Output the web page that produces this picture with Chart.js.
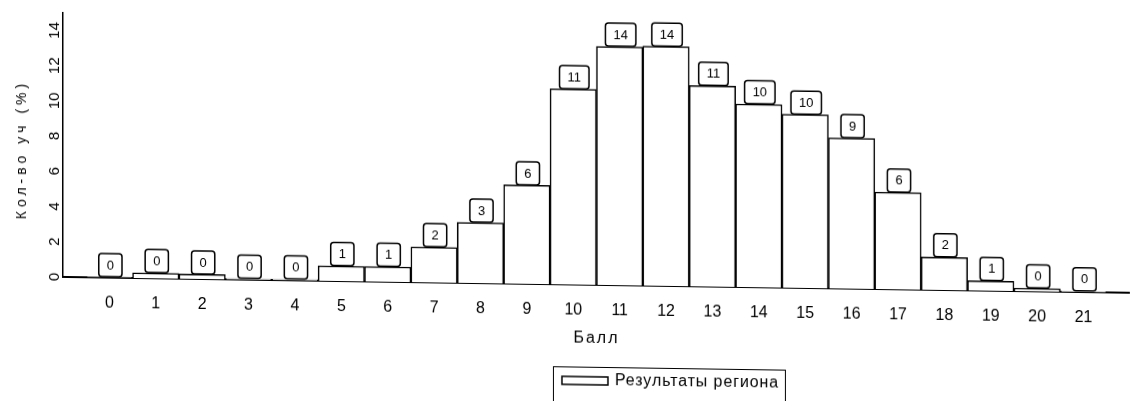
<!DOCTYPE html>
<html><head><meta charset="utf-8">
<script src="https://cdn.jsdelivr.net/npm/chart.js@4/dist/chart.umd.min.js"></script>
<style>
html,body{margin:0;padding:0;background:#fff;overflow:hidden;}
#wrap{width:1130px;height:401px;}
canvas{display:block;transform:skewY(0.85deg);transform-origin:0 0;}
</style></head><body>
<div id="wrap"><canvas id="c" width="1130" height="401"></canvas></div>
<script>
// ---- data ----
const scores = [0,1,2,3,4,5,6,7,8,9,10,11,12,13,14,15,16,17,18,19,20,21];
const shares = [0.03,0.3,0.26,0.05,0.05,0.85,0.85,2.0,3.44,5.6,11.1,13.55,13.6,11.4,10.4,9.85,8.55,5.5,1.86,0.55,0.17,0.04];
const shareLabels = ['0','0','0','0','0','1','1','2','3','6','11','14','14','11','10','10','9','6','2','1','0','0'];
const yTickValues = [0,2,4,6,8,10,12,14];
const seriesName = 'Результаты региона';
const xTitle = 'Балл';
const yTitle = 'Кол-во уч (%)';

const NARROW = '"Liberation Sans Narrow", "Liberation Sans", Arial, sans-serif';
const SANS = '"Liberation Sans", Arial, sans-serif';

const boxLabels = {
  id: 'boxLabels',
  afterDatasetsDraw(chart) {
    const ctx = chart.ctx;
    const meta = chart.getDatasetMeta(0);
    ctx.save();
    ctx.font = '13px ' + NARROW;
    ctx.textAlign = 'center';
    ctx.textBaseline = 'middle';
    meta.data.forEach((bar, i) => {
      const t = shareLabels[i];
      const w = ctx.measureText(t).width + 16;
      const h = 23;
      const cx = bar.x + 1;
      const top = bar.y - h - 0.5;
      ctx.beginPath();
      ctx.roundRect(cx - w / 2, top, w, h, 3);
      ctx.fillStyle = '#fff';
      ctx.fill();
      ctx.lineWidth = 1.5;
      ctx.strokeStyle = '#000';
      ctx.stroke();
      ctx.fillStyle = '#000';
      ctx.fillText(t, cx, top + h / 2 + 0.5);
    });
    ctx.restore();
  }
};

const extras = {
  id: 'extras',
  afterDraw(chart) {
    const ctx = chart.ctx;
    const xs = chart.scales.x;
    const ys = chart.scales.y;
    const spacing = (v) => { if ('letterSpacing' in ctx) ctx.letterSpacing = v; };
    ctx.save();
    // y title
    ctx.save();
    ctx.translate(22, ys.getPixelForValue(7.2));
    ctx.rotate(-Math.PI / 2);
    ctx.font = '14px ' + SANS;
    spacing('4px');
    ctx.fillStyle = '#000';
    ctx.textAlign = 'center';
    ctx.textBaseline = 'middle';
    ctx.fillText(yTitle, 0, 0);
    ctx.restore();
    // x title
    ctx.save();
    ctx.font = '16px ' + SANS;
    spacing('2px');
    ctx.fillStyle = '#000';
    ctx.textAlign = 'center';
    ctx.textBaseline = 'middle';
    ctx.fillText(xTitle, xs.getPixelForValue(10.5), 330);
    ctx.restore();
    // legend
    ctx.lineWidth = 1;
    ctx.strokeStyle = '#000';
    ctx.strokeRect(553.5, 358.5, 232, 40);
    ctx.fillStyle = '#fff';
    ctx.lineWidth = 1.5;
    ctx.fillRect(562, 368, 46, 8);
    ctx.strokeRect(562, 368, 46, 8);
    ctx.fillStyle = '#000';
    ctx.textAlign = 'left';
    ctx.textBaseline = 'middle';
    ctx.font = '16px ' + SANS;
    spacing('0.9px');
    ctx.fillText(chart.data.datasets[0].label, 615, 372);
    ctx.restore();
  }
};

new Chart(document.getElementById('c'), {
  type: 'bar',
  data: {
    labels: scores,
    datasets: [{
      label: seriesName,
      data: shares,
      backgroundColor: '#fff',
      borderColor: '#000',
      borderWidth: 1.5,
      barPercentage: 1,
      categoryPercentage: 1
    }]
  },
  options: {
    responsive: false,
    animation: false,
    devicePixelRatio: 1,
    layout: { padding: { top: 12, right: 0, bottom: 0, left: 0 } },
    plugins: { legend: { display: false }, tooltip: { enabled: false } },
    scales: {
      x: {
        type: 'linear',
        offset: false,
        min: -1,
        max: 22,
        grid: { display: false, drawTicks: false, offset: false },
        border: { display: true, color: '#000', width: 2 },
        afterBuildTicks: (s) => { s.ticks = scores.map(v => ({ value: v })); },
        afterFit: (s) => { s.height = 125; },
        ticks: {
          stepSize: 1,
          padding: 16,
          maxRotation: 0,
          autoSkip: false,
          color: '#000',
          font: { family: NARROW, size: 16 }
        }
      },
      y: {
        min: 0,
        max: 15,
        grid: { display: false, drawTicks: false },
        border: { display: true, color: '#000', width: 1.5 },
        afterBuildTicks: (s) => { s.ticks = yTickValues.map(v => ({ value: v })); },
        afterFit: (s) => { s.width = 63; },
        ticks: {
          minRotation: 90,
          maxRotation: 90,
          crossAlign: 'center',
          padding: 0,
          color: '#000',
          font: { family: NARROW, size: 15 }
        }
      }
    }
  },
  plugins: [boxLabels, extras]
});
</script>
</body></html>
